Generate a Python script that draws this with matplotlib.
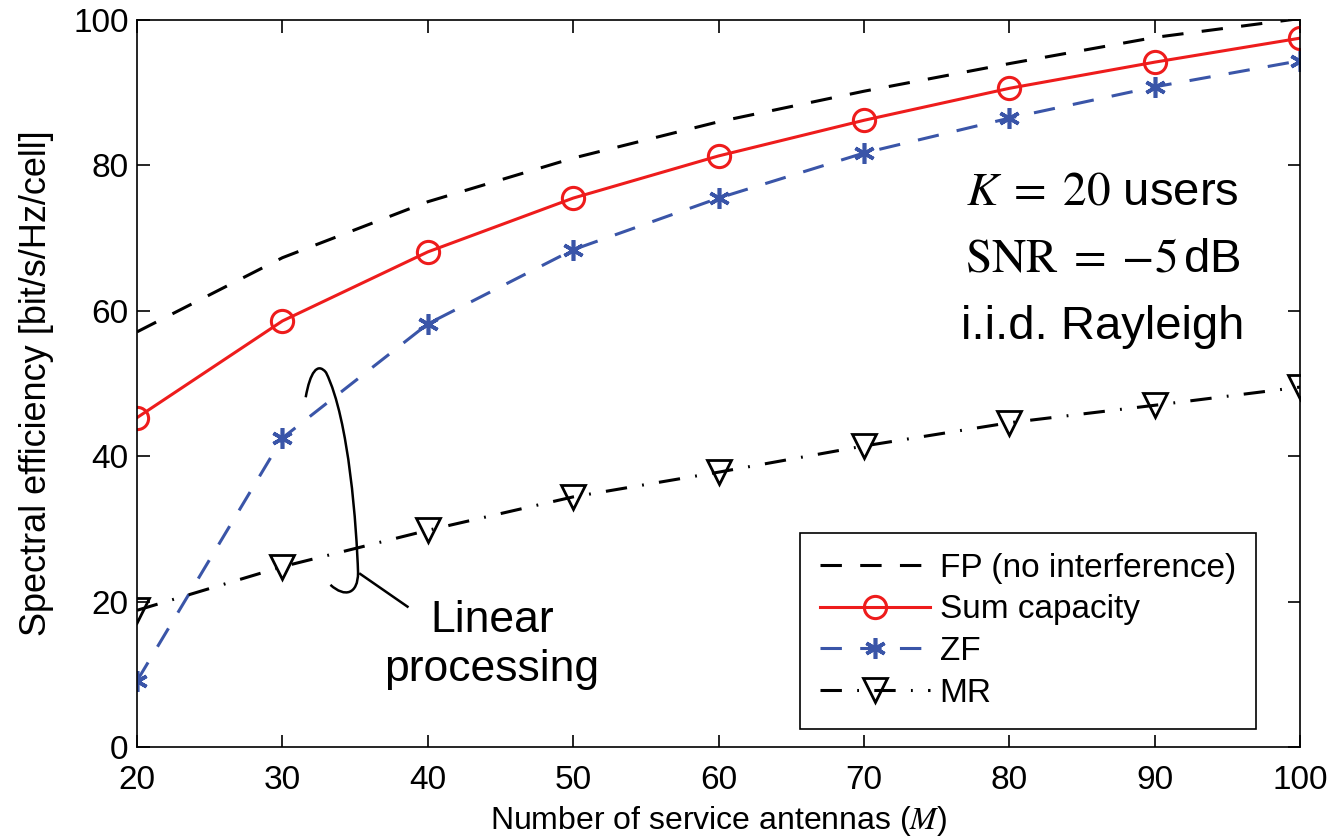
import matplotlib
matplotlib.use("Agg")
import matplotlib.pyplot as plt
from matplotlib.path import Path
from matplotlib.patches import PathPatch

plt.rcParams["font.family"] = ["Liberation Sans", "DejaVu Sans"]
plt.rcParams["mathtext.fontset"] = "stix"

# number of service antennas M
antennas = [20, 30, 40, 50, 60, 70, 80, 90, 100]

# spectral efficiency [bit/s/Hz/cell]
fp_no_interference = [57.1, 67.3, 75.0, 81.0, 86.0, 90.2, 94.0, 97.6, 100.2]
sum_capacity = [45.3, 58.6, 68.1, 75.5, 81.3, 86.2, 90.6, 94.2, 97.5]
zf = [9.1, 42.5, 58.2, 68.4, 75.5, 81.7, 86.5, 90.8, 94.4]
mr = [18.8, 24.8, 29.8, 34.4, 37.8, 41.4, 44.6, 47.0, 49.5]

x_ticks = [20, 30, 40, 50, 60, 70, 80, 90, 100]
y_ticks = [0, 20, 40, 60, 80, 100]

fig = plt.figure(figsize=(13.32, 8.39), dpi=100)
ax = fig.add_axes([0.1029, 0.1097, 0.8732, 0.8665])

lw = 2.2
ax.plot(antennas, fp_no_interference, color="black", lw=lw, dashes=(7, 6),
        label="FP (no interference)")
ax.plot(antennas, sum_capacity, color="#ee1c1c", lw=lw, marker="o", ms=16,
        mfc="none", mew=2.2, label="Sum capacity")
ax.plot(antennas, zf, color="#3a55a8", lw=lw, dashes=(7, 6), marker=(6, 2, 0),
        ms=15, mew=2.6, label="ZF")
ax.plot(antennas, mr, color="black", lw=lw, dashes=(7, 5, 0.6, 5), marker="v",
        ms=17, mfc="none", mew=2.0, label="MR")

ax.set_xlim(20, 100)
ax.set_ylim(0, 100)
ax.set_xticks(x_ticks)
ax.set_yticks(y_ticks)
ax.tick_params(direction="in", length=9, width=1.2, labelsize=24,
               top=True, right=True)
ax.tick_params(axis="x", pad=13)
ax.tick_params(axis="y", pad=6)
for s in ax.spines.values():
    s.set_linewidth(1.2)

ax.set_xlabel("Number of service antennas ($M$)", fontsize=23, labelpad=6)
ax.set_ylabel("Spectral efficiency [bit/s/Hz/cell]", fontsize=26, labelpad=14)

leg = ax.legend(loc="lower right", bbox_to_anchor=(0.962, 0.025),
                borderaxespad=0, fontsize=24, handlelength=3.3,
                handletextpad=0.3, labelspacing=0.32, fancybox=False,
                framealpha=1, edgecolor="black", borderpad=0.6)
leg.get_frame().set_linewidth(1.2)

# parameter box
ax.text(86.4, 76.3, "$K\\;=\\;20$ users", fontsize=34, ha="center", va="center")
ax.text(86.4, 67.0, "$\\mathrm{SNR}\\;=\\;{-}5\\,$dB", fontsize=34, ha="center", va="center")
ax.text(86.4, 57.8, "i.i.d. Rayleigh", fontsize=34, ha="center", va="center")

# bracket around the linear processing curves
verts = [(31.6, 48.1), (31.9, 51.5), (32.4, 53.0), (33.0, 51.5),
         (34.6, 45.0), (35.1, 30.0), (35.2, 24.0),
         (35.2, 21.0), (34.3, 20.5), (33.3, 22.3)]
codes = [Path.MOVETO, Path.CURVE4, Path.CURVE4, Path.CURVE4,
         Path.CURVE4, Path.CURVE4, Path.CURVE4,
         Path.CURVE4, Path.CURVE4, Path.CURVE4]
ax.add_patch(PathPatch(Path(verts, codes), fill=False, lw=1.8, color="black"))
ax.plot([35.35, 38.6], [23.8, 19.3], color="black", lw=1.8)
ax.text(44.4, 14.0, "Linear\nprocessing", fontsize=32, ha="center", va="center",
        linespacing=1.25)

fig.savefig("out.png", dpi=100)
